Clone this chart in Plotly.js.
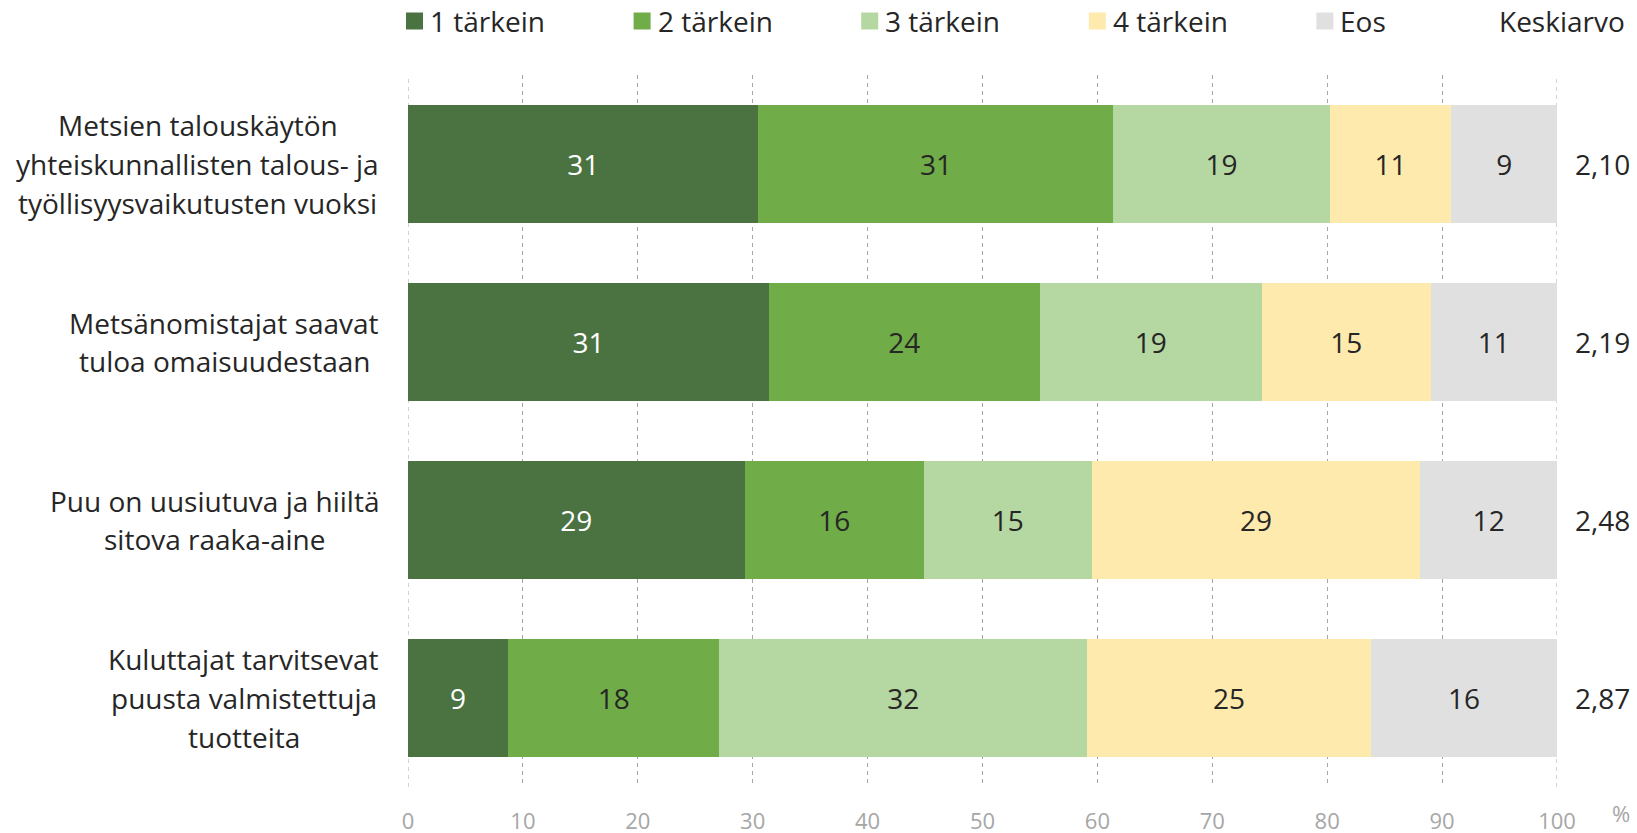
<!DOCTYPE html>
<html>
<head>
<meta charset="utf-8">
<script src="https://cdn.plot.ly/plotly-3.0.1.min.js"></script>
<style>
  html, body { margin: 0; padding: 0; background: #ffffff; }
  #chart { width: 1637px; height: 833px; }
</style>
</head>
<body>
<div id="chart"></div>
<script>
// ---- Data ----
const categories = [
  'Metsien talouskäytön<br>yhteiskunnallisten talous- ja<br>työllisyysvaikutusten vuoksi',
  'Metsänomistajat saavat<br>tuloa omaisuudestaan',
  'Puu on uusiutuva ja hiiltä<br>sitova raaka-aine',
  'Kuluttajat tarvitsevat<br>puusta valmistettuja<br>tuotteita'
];
const seriesNames = ['1 tärkein', '2 tärkein', '3 tärkein', '4 tärkein', 'Eos'];
const tarkein1 = [30.5, 31.4, 29.3, 8.7];
const tarkein2 = [30.9, 23.6, 15.6, 18.4];
const tarkein3 = [18.8, 19.3, 14.6, 32.0];
const tarkein4 = [10.6, 14.7, 28.6, 24.7];
const eos      = [9.2, 11.0, 11.9, 16.2];
const keskiarvoTitle = 'Keskiarvo';
const keskiarvo = ['2,10', '2,19', '2,48', '2,87'];
const xTickVals = [0, 10, 20, 30, 40, 50, 60, 70, 80, 90, 100];
const unitLabel = '%';

// ---- Styling ----
const colors = ['#4a7341', '#70ac48', '#b5d7a1', '#ffeaad', '#e0e0e0'];
const labelColors = ['#ffffff', '#262626', '#262626', '#262626', '#262626'];
const seriesValues = [tarkein1, tarkein2, tarkein3, tarkein4, eos];

const W = 1637, H = 833;
const M = { l: 408, r: 80, t: 75, b: 46 };
const plotW = W - M.l - M.r, plotH = H - M.t - M.b;
const pxX = px => (px - M.l) / plotW;
const pxY = py => 1 - (py - M.t) / plotH;

const FONT = '"Open Sans", "DejaVu Sans", sans-serif';
const TXT = '#262626';
const GRID = '#a6a6a6';
const DASH = '4px,4px';

// text width measurement for centered multi-line labels
const ctx = document.createElement('canvas').getContext('2d');
ctx.font = '28px "Open Sans", "DejaVu Sans", sans-serif';
const textW = s => ctx.measureText(s).width;

const traces = seriesValues.map((vals, i) => ({
  type: 'bar',
  orientation: 'h',
  name: seriesNames[i],
  y: categories,
  x: vals,
  marker: { color: colors[i], line: { width: 0 } },
  texttemplate: '%{x:.0f}',
  textposition: 'inside',
  insidetextanchor: 'middle',
  textangle: 0,
  constraintext: 'none',
  textfont: { family: FONT, size: 28, color: labelColors[i] },
  showlegend: false,
  hoverinfo: 'skip'
}));

const annotations = [];
const shapes = [];

// edge gridlines (0 and 100), drawn like the others
[xTickVals[0], xTickVals[xTickVals.length - 1]].forEach(v => {
  shapes.push({
    type: 'line', xref: 'x', yref: 'paper', x0: v, x1: v, y0: 0, y1: 1,
    layer: 'below', line: { color: GRID, width: 1, dash: DASH }
  });
});

// category labels: each line centered on the block, block right-aligned
const LABEL_RIGHT = 379;
const LINE_H = 38.8;
categories.forEach(c => {
  const lines = c.split('<br>');
  const blockW = Math.max(...lines.map(textW));
  const cx = LABEL_RIGHT - blockW / 2;
  lines.forEach((ln, j) => {
    annotations.push({
      xref: 'paper', yref: 'y', x: pxX(cx), y: c,
      xanchor: 'center', yanchor: 'middle',
      yshift: ((lines.length - 1) / 2 - j) * LINE_H,
      text: ln, showarrow: false,
      font: { family: FONT, size: 28, color: TXT }
    });
  });
});

// mean values on the right
categories.forEach((c, i) => {
  annotations.push({
    xref: 'paper', yref: 'y', x: pxX(1602), y: c,
    xanchor: 'center', yanchor: 'middle',
    text: keskiarvo[i], showarrow: false,
    font: { family: FONT, size: 28, color: TXT }
  });
});

// legend (manual)
const legY = pxY(21);
seriesNames.forEach((n, i) => {
  const x0 = 406 + i * 227.6;
  shapes.push({
    type: 'rect', xref: 'paper', yref: 'paper',
    x0: pxX(x0), x1: pxX(x0 + 17), y0: pxY(12.5), y1: pxY(29.5),
    fillcolor: colors[i], line: { width: 0 }
  });
  annotations.push({
    xref: 'paper', yref: 'paper', x: pxX(x0 + 22), y: legY,
    xanchor: 'left', yanchor: 'middle',
    text: n, showarrow: false,
    font: { family: FONT, size: 28, color: TXT }
  });
});
annotations.push({
  xref: 'paper', yref: 'paper', x: pxX(1497), y: legY,
  xanchor: 'left', yanchor: 'middle',
  text: keskiarvoTitle, showarrow: false,
  font: { family: FONT, size: 28, color: TXT }
});

// unit label
annotations.push({
  xref: 'paper', yref: 'paper', x: pxX(1621), y: pxY(813),
  xanchor: 'center', yanchor: 'middle',
  text: unitLabel, showarrow: false,
  font: { family: FONT, size: 22, color: GRID }
});

const layout = {
  width: W, height: H,
  margin: M,
  paper_bgcolor: '#ffffff', plot_bgcolor: '#ffffff',
  barmode: 'stack',
  bargap: 0.333,
  hovermode: false,
  font: { family: FONT, color: TXT },
  xaxis: {
    range: [0, 100],
    tickvals: xTickVals,
    ticktext: xTickVals.map(String),
    showgrid: true, gridcolor: GRID, gridwidth: 1, griddash: DASH,
    zeroline: false, showline: false,
    ticks: '', ticklabelstandoff: 19,
    tickfont: { family: FONT, size: 22, color: GRID },
    fixedrange: true
  },
  yaxis: {
    type: 'category',
    categoryorder: 'array', categoryarray: categories,
    range: [3.5, -0.5],
    showticklabels: false, showgrid: false, zeroline: false, showline: false,
    ticks: '',
    fixedrange: true
  },
  annotations: annotations,
  shapes: shapes
};

Plotly.newPlot('chart', traces, layout, { displayModeBar: false, staticPlot: true });
</script>
</body>
</html>
